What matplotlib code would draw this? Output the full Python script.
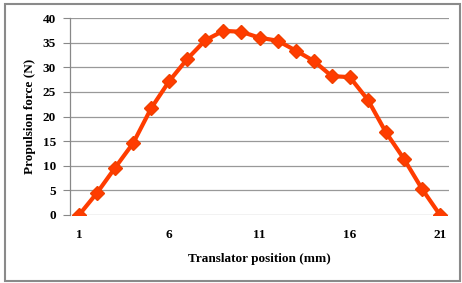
#plot.py

import matplotlib
matplotlib.use("Agg")
import matplotlib.pyplot as plt
from matplotlib.patches import Rectangle

# translator position (mm) and propulsion force (N)
position = list(range(1, 22))
force = [0, 4.5, 9.6, 14.6, 21.7, 27.2, 31.7, 35.5, 37.4, 37.2, 36.0,
         35.4, 33.4, 31.3, 28.2, 28.0, 23.4, 16.8, 11.4, 5.3, 0]
xtick_labels = ["1", "6", "11", "16", "21"]
yticks = [0, 5, 10, 15, 20, 25, 30, 35, 40]

plt.rcParams['font.family'] = ['Liberation Serif', 'DejaVu Serif']

fig = plt.figure(figsize=(4.62, 2.83), dpi=100)
ax = fig.add_axes([0.1515, 0.2403, 0.8205, 0.6960])

ax.plot(position, force, color="#ff3c00", lw=3, marker="D", ms=7,
        markerfacecolor="#ff3c00", markeredgecolor="#f04000", zorder=3)

ax.set_xlim(0.5, 21.5)
ax.set_ylim(0, 40)
ax.set_yticks(yticks)
ax.set_yticklabels([str(v) for v in yticks], fontsize=9.5, fontweight="bold")
ax.set_xticks([int(s) for s in xtick_labels])
ax.set_xticklabels(xtick_labels, fontsize=9.5, fontweight="bold")
ax.tick_params(axis="x", length=0, pad=10)
ax.tick_params(axis="y", length=5, color="#888888", pad=5)

ax.grid(axis="y", color="#999999", lw=0.9)
ax.set_axisbelow(True)
for side in ["top", "right", "bottom"]:
    ax.spines[side].set_visible(False)
ax.spines["left"].set_color("#888888")
ax.spines["left"].set_linewidth(0.9)

ax.set_ylabel("Propulsion force (N)", fontsize=9.5, fontweight="bold", labelpad=5)
ax.set_xlabel("Translator position (mm)", fontsize=9.5, fontweight="bold", labelpad=9)

# outer frame
fig.patches.append(Rectangle((0.011, 0.007), 0.985, 0.978, transform=fig.transFigure,
                             fill=False, edgecolor="#8a8a8a", lw=1.5))

fig.savefig("out.png", dpi=100)
